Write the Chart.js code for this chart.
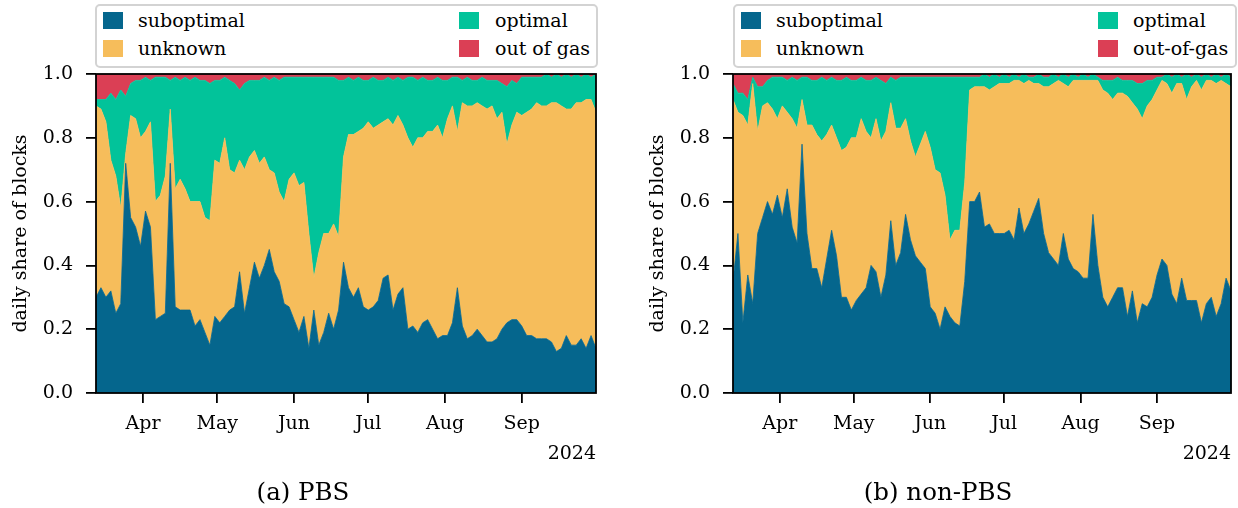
<!DOCTYPE html>
<html><head><meta charset="utf-8">
<script src="https://cdn.jsdelivr.net/npm/chart.js@4.4.1/dist/chart.umd.min.js"></script>
<style>
html,body{margin:0;padding:0;background:#fff;}
body{width:1238px;height:508px;position:relative;overflow:hidden;font-family:'DejaVu Serif',serif;color:#000;}
canvas{position:absolute;top:0;}
.lg{position:absolute;top:4px;height:64px;border:2px solid #d3d3d3;border-radius:5px;background:#fff;box-sizing:border-box;}
.sw{position:absolute;width:20px;height:17px;}
.lt{position:absolute;font-size:19px;line-height:19px;white-space:nowrap;}
.yr{position:absolute;font-size:19px;line-height:19px;text-align:right;width:100px;}
.cap{position:absolute;font-size:24.5px;line-height:24.5px;text-align:center;width:400px;}
</style>
</head><body>
<canvas id="c1" width="620" height="508" style="left:0px"></canvas>
<canvas id="c2" width="601" height="508" style="left:637px"></canvas>
<div id="overlay"></div>
<script>
// ---- categories (daily share sampled every 2 days from 2024-03-13) ----
const startDate = '2024-03-13';
const stepDays = 2;
const nSamples = 102;
const monthStarts = ['2024-04-01','2024-05-01','2024-06-01','2024-07-01','2024-08-01','2024-09-01'];
const monthLabels = ['Apr','May','Jun','Jul','Aug','Sep'];
const yTicks = [0.0,0.2,0.4,0.6,0.8,1.0];
const seriesNames = ['suboptimal','unknown','optimal'];
const oogNamePBS = 'out of gas';
const oogNameNon = 'out-of-gas';
const yearLabel = '2024';
const captions = ['(a) PBS','(b) non-PBS'];

// ---- PBS ----
const pbsSuboptimal = [0.30,0.33,0.30,0.32,0.25,0.28,0.72,0.55,0.52,0.46,
0.57,0.52,0.23,0.24,0.25,0.72,0.27,0.26,0.26,0.26,
0.21,0.23,0.19,0.15,0.24,0.22,0.24,0.26,0.27,0.38,
0.25,0.33,0.41,0.36,0.40,0.45,0.38,0.35,0.28,0.27,
0.23,0.19,0.24,0.14,0.26,0.15,0.19,0.25,0.20,0.26,
0.41,0.33,0.30,0.33,0.27,0.26,0.27,0.29,0.36,0.37,
0.26,0.31,0.33,0.20,0.21,0.19,0.22,0.23,0.20,0.17,
0.18,0.18,0.22,0.33,0.21,0.17,0.18,0.20,0.18,0.16,
0.16,0.17,0.20,0.22,0.23,0.23,0.21,0.18,0.18,0.17,
0.17,0.17,0.16,0.13,0.14,0.18,0.15,0.15,0.17,0.14,
0.18,0.14];
const pbsUnknown = [0.60,0.56,0.55,0.41,0.43,0.30,0.03,0.32,0.34,0.34,
0.25,0.33,0.37,0.38,0.43,0.17,0.37,0.41,0.38,0.34,
0.39,0.37,0.36,0.39,0.49,0.50,0.56,0.44,0.42,0.35,
0.45,0.41,0.35,0.36,0.34,0.25,0.31,0.28,0.32,0.40,
0.46,0.46,0.42,0.36,0.10,0.29,0.31,0.25,0.33,0.23,
0.33,0.48,0.51,0.49,0.56,0.59,0.56,0.55,0.49,0.49,
0.58,0.56,0.51,0.60,0.56,0.61,0.58,0.59,0.62,0.67,
0.62,0.68,0.68,0.49,0.70,0.73,0.72,0.71,0.72,0.73,
0.74,0.69,0.68,0.56,0.61,0.65,0.66,0.70,0.71,0.74,
0.73,0.73,0.75,0.78,0.76,0.71,0.74,0.76,0.74,0.78,
0.74,0.74];
const pbsOptimal = [0.02,0.03,0.07,0.21,0.24,0.37,0.18,0.10,0.12,0.18,
0.17,0.13,0.39,0.37,0.31,0.09,0.35,0.31,0.35,0.38,
0.39,0.38,0.43,0.43,0.25,0.26,0.19,0.28,0.28,0.22,
0.27,0.24,0.22,0.26,0.25,0.28,0.30,0.35,0.39,0.32,
0.30,0.34,0.33,0.49,0.63,0.55,0.49,0.49,0.46,0.49,
0.24,0.18,0.17,0.17,0.15,0.13,0.16,0.14,0.13,0.13,
0.14,0.12,0.14,0.19,0.22,0.18,0.19,0.16,0.16,0.15,
0.18,0.12,0.09,0.17,0.07,0.09,0.08,0.07,0.09,0.09,
0.08,0.12,0.09,0.18,0.14,0.09,0.12,0.11,0.10,0.08,
0.09,0.10,0.08,0.09,0.09,0.11,0.10,0.09,0.08,0.08,
0.07,0.12];
const pbsOutOfGas = [0.08,0.08,0.08,0.06,0.08,0.05,0.07,0.03,0.02,0.02,
0.01,0.02,0.01,0.01,0.01,0.02,0.01,0.02,0.01,0.02,
0.01,0.02,0.02,0.03,0.02,0.02,0.01,0.02,0.03,0.05,
0.03,0.02,0.02,0.02,0.01,0.02,0.01,0.02,0.01,0.01,
0.01,0.01,0.01,0.01,0.01,0.01,0.01,0.01,0.01,0.02,
0.02,0.01,0.02,0.01,0.02,0.02,0.01,0.02,0.02,0.01,
0.02,0.01,0.02,0.01,0.01,0.02,0.01,0.02,0.02,0.01,
0.02,0.02,0.01,0.01,0.02,0.01,0.02,0.02,0.01,0.02,
0.02,0.02,0.03,0.04,0.02,0.03,0.01,0.01,0.01,0.01,
0.01,0.00,0.01,0.00,0.01,0.00,0.01,0.00,0.01,0.00,
0.01,0.00];

// ---- non-PBS ----
const nonSuboptimal = [0.35,0.50,0.22,0.37,0.28,0.50,0.55,0.60,0.56,0.62,
0.55,0.64,0.52,0.47,0.78,0.50,0.39,0.39,0.33,0.42,
0.51,0.43,0.30,0.30,0.26,0.29,0.31,0.33,0.40,0.38,
0.30,0.37,0.54,0.40,0.44,0.56,0.48,0.43,0.41,0.39,
0.27,0.25,0.20,0.27,0.24,0.22,0.21,0.35,0.60,0.60,
0.63,0.52,0.53,0.50,0.50,0.50,0.51,0.48,0.58,0.50,
0.53,0.57,0.61,0.50,0.44,0.42,0.40,0.50,0.42,0.39,
0.38,0.36,0.36,0.56,0.40,0.30,0.27,0.30,0.33,0.33,
0.24,0.32,0.22,0.28,0.27,0.30,0.37,0.42,0.40,0.31,
0.28,0.36,0.29,0.29,0.29,0.22,0.28,0.30,0.24,0.28,
0.36,0.32];
const nonUnknown = [0.57,0.38,0.65,0.47,0.69,0.32,0.35,0.31,0.33,0.24,
0.35,0.24,0.34,0.36,0.14,0.34,0.45,0.42,0.46,0.39,
0.33,0.37,0.46,0.47,0.54,0.51,0.55,0.49,0.40,0.48,
0.49,0.45,0.37,0.43,0.39,0.30,0.31,0.31,0.37,0.43,
0.50,0.45,0.49,0.35,0.24,0.29,0.30,0.31,0.35,0.36,
0.33,0.44,0.42,0.46,0.47,0.47,0.46,0.50,0.40,0.47,
0.45,0.40,0.36,0.46,0.52,0.55,0.58,0.47,0.54,0.59,
0.60,0.62,0.62,0.42,0.58,0.65,0.67,0.62,0.61,0.61,
0.69,0.59,0.67,0.58,0.63,0.62,0.58,0.56,0.57,0.63,
0.69,0.61,0.63,0.67,0.69,0.73,0.70,0.68,0.73,0.70,
0.61,0.64];
const nonOptimal = [0.05,0.06,0.07,0.08,0.02,0.14,0.06,0.07,0.10,0.13,
0.09,0.10,0.13,0.15,0.07,0.15,0.14,0.17,0.20,0.17,
0.15,0.18,0.22,0.22,0.18,0.18,0.13,0.16,0.18,0.13,
0.19,0.15,0.08,0.15,0.16,0.13,0.20,0.25,0.21,0.17,
0.22,0.29,0.30,0.37,0.51,0.48,0.48,0.33,0.04,0.03,
0.03,0.04,0.04,0.04,0.02,0.03,0.02,0.02,0.01,0.03,
0.01,0.02,0.03,0.03,0.03,0.03,0.01,0.03,0.03,0.02,
0.01,0.02,0.01,0.02,0.01,0.03,0.04,0.06,0.05,0.04,
0.05,0.07,0.08,0.11,0.08,0.06,0.04,0.01,0.03,0.05,
0.03,0.02,0.08,0.03,0.02,0.04,0.02,0.01,0.03,0.01,
0.03,0.03];
const nonOutOfGas = [0.03,0.06,0.06,0.08,0.01,0.04,0.04,0.02,0.01,0.01,
0.01,0.02,0.01,0.02,0.01,0.01,0.02,0.02,0.01,0.02,
0.01,0.02,0.02,0.01,0.02,0.02,0.01,0.02,0.02,0.01,
0.02,0.03,0.01,0.02,0.01,0.01,0.01,0.01,0.01,0.01,
0.01,0.01,0.01,0.01,0.01,0.01,0.01,0.01,0.01,0.01,
0.01,0.00,0.01,0.00,0.01,0.00,0.01,0.00,0.01,0.00,
0.01,0.01,0.00,0.01,0.01,0.00,0.01,0.00,0.01,0.00,
0.01,0.00,0.01,0.00,0.01,0.02,0.02,0.02,0.01,0.02,
0.02,0.02,0.03,0.03,0.02,0.02,0.01,0.01,0.00,0.01,
0.00,0.01,0.00,0.01,0.00,0.01,0.00,0.01,0.00,0.01,
0.00,0.01];

// ---- styles ----
const COLORS = {sub:'#05668D', unk:'#F6BD5B', opt:'#02C39A', oog:'#DB3F55'};
const FONT = {family:"'DejaVu Serif', serif", size:19};

const DAY = 86400000;
const t0 = Date.parse(startDate + 'T00:00:00Z');
const dates = Array.from({length:nSamples}, (_, i) => new Date(t0 + i*stepDays*DAY).toISOString().slice(0,10));
const toDay = s => Math.round((Date.parse(s + 'T00:00:00Z') - t0) / DAY);
const xMax = toDay(dates[dates.length-1]);

const framePlugin = {id:'frame', afterDatasetsDraw(c){
  const a = c.chartArea, ctx = c.ctx;
  ctx.save(); ctx.strokeStyle = '#000'; ctx.lineWidth = 1.8;
  ctx.strokeRect(a.left, a.top, a.right - a.left, a.bottom - a.top);
  ctx.restore();
}};

function makeChart(id, sub, unk, opt, oog, oogName, padRight){
  const ds = (label, arr, color, fill) => ({
    label, fill, backgroundColor: color, borderColor: color, borderWidth: 0.8,
    pointRadius: 0, tension: 0,
    data: arr.map((v, i) => ({x: toDay(dates[i]), y: v}))
  });
  const gridOpts = {display:true, drawOnChartArea:false, drawTicks:true, tickLength:10, color:'#000', lineWidth:1.8};
  return new Chart(document.getElementById(id), {
    type:'line',
    data:{datasets:[
      ds(seriesNames[0], sub, COLORS.sub, 'origin'),
      ds(seriesNames[1], unk, COLORS.unk, '-1'),
      ds(seriesNames[2], opt, COLORS.opt, '-1'),
      ds(oogName, oog, COLORS.oog, '-1')
    ]},
    options:{
      responsive:false, animation:false, devicePixelRatio:1,
      layout:{padding:{top:74, right:padRight, bottom:0, left:0}},
      plugins:{legend:{display:false}, tooltip:{enabled:false}},
      scales:{
        x:{type:'linear', min:0, max:xMax,
          afterBuildTicks: sc => { sc.ticks = monthStarts.map(s => ({value: toDay(s)})); },
          afterFit: sc => { sc.height = 115; },
          ticks:{autoSkip:false, maxRotation:0, padding:10, color:'#000', font:FONT,
            callback: v => { const i = monthStarts.findIndex(s => toDay(s) === v); return i >= 0 ? monthLabels[i] : ''; }},
          grid:gridOpts, border:{display:false}},
        y:{stacked:true, min:0, max:1,
          afterBuildTicks: sc => { sc.ticks = yTicks.map(v => ({value:v})); },
          afterFit: sc => { sc.width = 96; },
          ticks:{padding:13, color:'#000', font:FONT, callback: v => Number(v).toFixed(1)},
          grid:gridOpts, border:{display:false},
          title:{display:true, text:'daily share of blocks', color:'#000', font:FONT, padding:{top:10, bottom:0}}}
      }
    },
    plugins:[framePlugin]
  });
}

makeChart('c1', pbsSuboptimal, pbsUnknown, pbsOptimal, pbsOutOfGas, oogNamePBS, 24);
makeChart('c2', nonSuboptimal, nonUnknown, nonOptimal, nonOutOfGas, oogNameNon, 7);

// ---- legends, year labels, captions (HTML text) ----
const ov = document.getElementById('overlay');
function el(cls, style, text){ const d = document.createElement('div'); d.className = cls; Object.assign(d.style, style); if (text !== undefined) d.textContent = text; ov.appendChild(d); return d; }
function legend(boxL, boxR, col1Sw, col1Tx, col2Sw, col2Tx, oogName){
  el('lg', {left: boxL+'px', width: (boxR-boxL)+'px'});
  const items = [[seriesNames[0], COLORS.sub, col1Sw, col1Tx, 0],[seriesNames[1], COLORS.unk, col1Sw, col1Tx, 1],
                 [seriesNames[2], COLORS.opt, col2Sw, col2Tx, 0],[oogName, COLORS.oog, col2Sw, col2Tx, 1]];
  items.forEach(([name, color, sx, tx, row]) => {
    el('sw', {left: sx+'px', top: (12 + row*28)+'px', background: color});
    el('lt', {left: tx+'px', top: (11 + row*28)+'px'}, name);
  });
}
legend(95, 598, 103, 138, 459, 495, oogNamePBS);
legend(733, 1237, 741, 776, 1098, 1133, oogNameNon);
el('yr', {left:(596-100)+'px', top:'443px'}, yearLabel);
el('yr', {left:(1231-100)+'px', top:'443px'}, yearLabel);
el('cap', {left:(303-200)+'px', top:'480px'}, captions[0]);
el('cap', {left:(938-200)+'px', top:'480px'}, captions[1]);
</script>
</body></html>
